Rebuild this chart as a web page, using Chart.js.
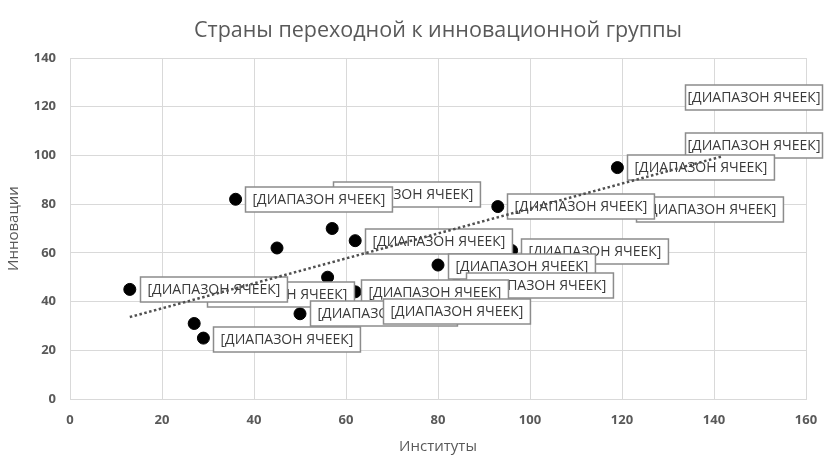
<!DOCTYPE html>
<html>
<head>
<meta charset="utf-8">
<script src="https://cdn.jsdelivr.net/npm/chart.js@4.4.1/dist/chart.umd.min.js"></script>
<style>
  html, body { margin: 0; padding: 0; background: #fff; }
  #wrap { width: 824px; height: 458px; position: relative; }
</style>
</head>
<body>
<div id="wrap"><canvas id="grafico"></canvas></div>
<script>
// Данные (Институты / Инновации)
const institutes  = [13, 27, 29, 36, 45, 57, 62, 56, 50, 80, 93, 96, 119, 62, 28, 66, 84, 55, 121, 140, 142];
const innovations = [45, 31, 25, 82, 62, 70, 65, 50, 35, 55, 79, 61, 95, 44, 43, 36, 47, 84, 78, 104, 124];

// подписи данных: левый край / середина по высоте, в единицах осей
const labelText = '[ДИАПАЗОН ЯЧЕЕК]';
const labelX = [133.6, 133.6, 121.1, 123.1, 95, 57.2, 38, 64.1, 98.1, 82.2, 86.1, 63.2, 29.8, 15.2, 52.1, 68, 31.1];
const labelY = [124, 104.1, 95.2, 78.1, 79.1, 84.3, 82, 65, 60.9, 54.7, 47, 44.1, 43.1, 45.2, 35.2, 36.1, 24.6];

const xTicks = [0, 20, 40, 60, 80, 100, 120, 140, 160];
const yTicks = [0, 20, 40, 60, 80, 100, 120, 140];

// линейный тренд
const n = institutes.length;
const mx = institutes.reduce((a, b) => a + b, 0) / n;
const my = innovations.reduce((a, b) => a + b, 0) / n;
let sxy = 0, sxx = 0;
for (let i = 0; i < n; i++) {
    sxy += (institutes[i] - mx) * (innovations[i] - my);
    sxx += (institutes[i] - mx) * (institutes[i] - mx);
}
const slope = sxy / sxx;
const icpt = my - slope * mx;
const xMin = Math.min(...institutes), xMax = Math.max(...institutes);

const points = institutes.map((x, i) => ({ x: x, y: innovations[i] }));

const labelsPlugin = {
    id: 'cellLabels',
    afterDatasetDraw(chart, args) {
        if (args.index !== 0) return;
        const ctx = chart.ctx;
        const xs = chart.scales.x, ys = chart.scales.y;
        ctx.save();
        ctx.font = '14px "Open Sans"';
        ctx.textBaseline = 'middle';
        const tw = ctx.measureText(labelText).width;
        for (let i = 0; i < labelX.length; i++) {
            const px = Math.round(xs.getPixelForValue(labelX[i])) + 0.5;
            const py = Math.round(ys.getPixelForValue(labelY[i])) + 0.5;
            let w = tw + 14;
            if (px + w > chart.width - 1.5) w = chart.width - 1.5 - px;
            ctx.fillStyle = '#ffffff';
            ctx.fillRect(px, py - 12.5, w, 25);
            ctx.strokeStyle = '#8c8c8c';
            ctx.lineWidth = 1.5;
            ctx.strokeRect(px, py - 12.5, w, 25);
            ctx.fillStyle = '#3a3a3a';
            ctx.fillText(labelText, px + (w - tw) / 2, py + 1);
        }
        ctx.restore();
    }
};

const titlePlugin = {
    id: 'titleText',
    afterDraw(chart) {
        const ctx = chart.ctx;
        const a = chart.chartArea;
        ctx.save();
        ctx.font = '21.5px "Open Sans"';
        ctx.fillStyle = '#595959';
        ctx.textAlign = 'center';
        ctx.textBaseline = 'middle';
        ctx.fillText('Страны переходной к инновационной группы', (a.left + a.right) / 2, 31);
        ctx.restore();
    }
};

const ctx = document.getElementById('grafico').getContext('2d');
new Chart(ctx, {
    type: 'scatter',
    data: {
        datasets: [{
            label: 'Страны',
            data: points,
            backgroundColor: '#000000',
            borderColor: '#000000',
            pointRadius: 6,
            pointHoverRadius: 6,
            order: 1
        }, {
            type: 'line',
            label: 'Тренд',
            data: [{ x: xMin, y: icpt + slope * xMin }, { x: xMax, y: icpt + slope * xMax }],
            borderColor: '#505050',
            borderWidth: 2.5,
            borderDash: [2.5, 2.5],
            pointRadius: 0,
            fill: false,
            order: 0
        }]
    },
    options: {
        responsive: true,
        maintainAspectRatio: false,
        animation: false,
        layout: { padding: { top: 58, right: 18, left: 0, bottom: 0 } },
        plugins: {
            legend: { display: false },
            tooltip: { enabled: false },
            title: { display: false }
        },
        scales: {
            x: {
                type: 'linear',
                min: 0, max: 160,
                afterBuildTicks: s => { s.ticks = xTicks.map(v => ({ value: v })); },
                afterFit: s => { s.height = 59; s.paddingLeft = 0; s.paddingRight = 0; },
                ticks: {
                    color: '#595959',
                    font: { family: 'Open Sans', size: 13, weight: 'bold' },
                    padding: 13
                },
                grid: { color: '#d9d9d9', lineWidth: 1, drawTicks: false },
                border: { color: '#d9d9d9' },
                title: {
                    display: true,
                    text: 'Институты',
                    color: '#595959',
                    font: { family: 'Open Sans', size: 15 },
                    padding: { top: 4, bottom: 2 }
                }
            },
            y: {
                type: 'linear',
                min: 0, max: 140,
                afterBuildTicks: s => { s.ticks = yTicks.map(v => ({ value: v })); },
                afterFit: s => { s.width = 70; s.paddingTop = 0; s.paddingBottom = 0; },
                ticks: {
                    color: '#595959',
                    font: { family: 'Open Sans', size: 13, weight: 'bold' },
                    padding: 14
                },
                grid: { color: '#d9d9d9', lineWidth: 1, drawTicks: false },
                border: { color: '#d9d9d9' },
                title: {
                    display: true,
                    text: 'Инновации',
                    color: '#595959',
                    font: { family: 'Open Sans', size: 15 },
                    padding: { top: 5, bottom: 0 }
                }
            }
        }
    },
    plugins: [labelsPlugin, titlePlugin]
});
</script>
</body>
</html>
